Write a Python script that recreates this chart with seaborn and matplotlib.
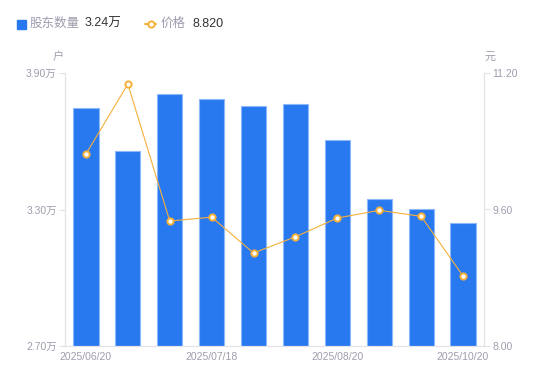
import matplotlib
matplotlib.use("Agg")
import matplotlib.pyplot as plt
import seaborn as sns
from matplotlib.lines import Line2D
from matplotlib.patches import Rectangle

# 数据
dates = ["2025/06/20", "2025/06/30", "2025/07/10", "2025/07/18", "2025/07/31",
         "2025/08/10", "2025/08/20", "2025/08/31", "2025/09/30", "2025/10/20"]
holders = [3.746, 3.557, 3.808, 3.786, 3.755, 3.764, 3.606, 3.346, 3.302, 3.24]
price = [10.25, 11.07, 9.465, 9.51, 9.09, 9.28, 9.50, 9.59, 9.52, 8.82]
left_ticks = [2.70, 3.30, 3.90]
right_ticks = [8.00, 9.60, 11.20]
shown_labels = ["2025/06/20", "2025/07/18", "2025/08/20", "2025/10/20"]

BLUE = "#2878F0"
ORANGE = "#F5B03A"
AXIS = "#E3E3E8"
TEXT = "#9D9DAE"
DARK = "#333333"

sns.set_theme(style="white")
plt.rcParams["font.family"] = ["Liberation Sans", "Noto Sans CJK SC", "DejaVu Sans"]

fig = plt.figure(figsize=(5.5, 3.81), dpi=100)
ax = fig.add_axes([65 / 550, 1 - 346 / 381, 419 / 550, 273 / 381])

sns.barplot(x=dates, y=holders, ax=ax, color=BLUE, width=0.6, saturation=1,
            edgecolor="#8DB8FA", linewidth=0.8)
ax.set_ylim(2.70, 3.90)
ax.set_xlim(-0.5, len(dates) - 0.5)
ax.set_yticks(left_ticks)
ax.set_yticklabels([f"{v:.2f}万" for v in left_ticks])
ax.set_xticks(range(len(dates)))
ax.set_xticklabels([d if d in shown_labels else "" for d in dates])
ax.tick_params(axis="x", length=0, pad=4, labelsize=7.5, labelcolor=TEXT)
ax.tick_params(axis="y", length=4, width=0.8, color=AXIS, pad=2,
               labelsize=7.5, labelcolor=TEXT)

ax2 = ax.twinx()
sns.pointplot(x=dates, y=price, ax=ax2, color=ORANGE, markers="o",
              linewidth=0.8, markersize=4.5, markerfacecolor="white",
              markeredgewidth=1.4, markeredgecolor=ORANGE)
ax2.set_ylim(8.00, 11.20)
ax2.set_xlim(-0.5, len(dates) - 0.5)
ax2.set_yticks(right_ticks)
ax2.set_yticklabels([f"{v:.2f}" for v in right_ticks])
ax2.tick_params(axis="y", length=4, width=0.8, color=AXIS, pad=2,
                labelsize=7.5, labelcolor=TEXT)
ax2.set_ylabel("")
ax.set_xlabel("")

for a in (ax, ax2):
    a.spines["top"].set_visible(False)
    for s in ("left", "right", "bottom"):
        a.spines[s].set_color(AXIS)
        a.spines[s].set_linewidth(0.8)

# 单位
fig.text(58 / 550, 1 - 57 / 381, "户", fontsize=8, color=TEXT, ha="center", va="center")
fig.text(490 / 550, 1 - 57 / 381, "元", fontsize=8, color=TEXT, ha="center", va="center")

# 图例
fig.patches.append(Rectangle((17 / 550, 1 - 29 / 381), 9 / 550, 9 / 381,
                             transform=fig.transFigure, color=BLUE, figure=fig))
fig.text(30 / 550, 1 - 24 / 381, "股东数量", fontsize=9, color=TEXT, va="center")
fig.text(85 / 550, 1 - 24 / 381, "3.24万", fontsize=9, color=DARK, va="center")
fig.lines.append(Line2D([145 / 550, 156 / 550], [1 - 24 / 381] * 2, transform=fig.transFigure,
                        color=ORANGE, linewidth=1.5, figure=fig))
fig.lines.append(Line2D([150.5 / 550], [1 - 24 / 381], transform=fig.transFigure,
                        color=ORANGE, marker="o", markersize=4.5, markerfacecolor="white",
                        markeredgewidth=1.4, linestyle="none", figure=fig))
fig.text(161 / 550, 1 - 24 / 381, "价格", fontsize=9, color=TEXT, va="center")
fig.text(192 / 550, 1 - 24 / 381, "8.820", fontsize=9, color=DARK, va="center")

fig.savefig("out.png", dpi=100)
plt.close(fig)
